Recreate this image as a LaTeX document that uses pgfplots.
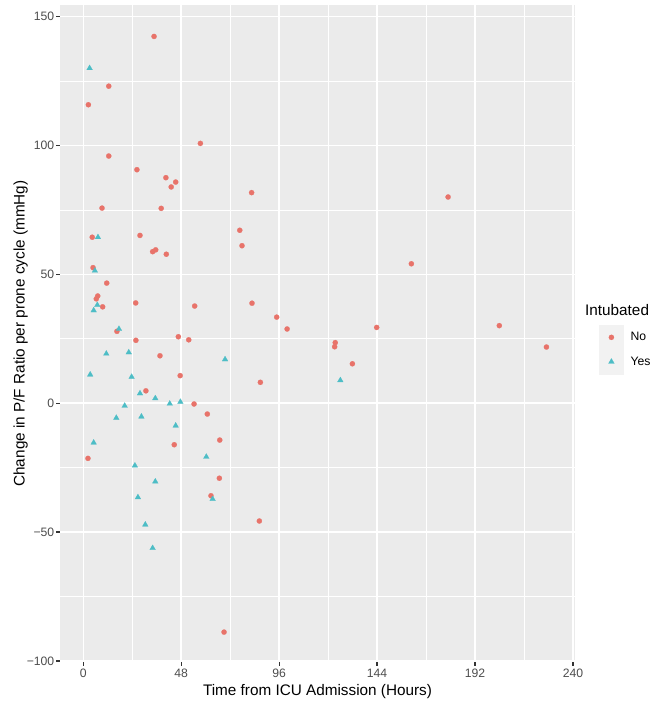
\documentclass[border=0pt]{standalone}
\usepackage{fontspec}
\setmainfont{Liberation Sans}
\usepackage{pgfplots}
\pgfplotsset{compat=1.18}
\definecolor{panelbg}{HTML}{EBEBEB}
\definecolor{ggred}{HTML}{E8736A}
\definecolor{ggteal}{HTML}{4DBDC6}
\definecolor{gray30}{HTML}{4D4D4D}
\definecolor{gray20}{HTML}{333333}
\definecolor{legkey}{HTML}{F2F2F2}
\pgfplotsset{ggkey/.style={legend image code/.code={\fill[legkey] (-12pt,-12pt) rectangle (12pt,12pt); \draw[##1] plot coordinates {(0pt,0pt)};}}}
\begin{document}
\begin{tikzpicture}
\useasboundingbox (0pt,0pt) rectangle (667pt,703pt);
\begin{axis}[
 at={(60pt,41pt)}, anchor=south west,
 scale only axis, width=515pt, height=657pt,
 xmin=-11.4, xmax=241, ymin=-100.4, ymax=154.5,
 axis background/.style={fill=panelbg},
 axis line style={draw=none},
 xtick={0,48,96,144,192,240}, ytick={-100,-50,0,50,100,150},
 xticklabels={0,48,96,144,192,240},
 yticklabels={−100,−50,0,50,100,150},
 minor xtick={24,72,120,168,216}, minor ytick={-75,-25,25,75,125},
 grid=both,
 major grid style={white, line width=1.5pt},
 minor grid style={white, line width=0.7pt},
 tick align=outside, major tick length=3.7pt, minor tick length=0pt,
 xtick pos=left, ytick pos=left,
 major tick style={gray20, line width=1.2pt},
 tick label style={font=\fontsize{12.2}{14}\selectfont, text=gray30},
 yticklabel style={xshift=1.5pt},
 xlabel={Time from ICU Admission (Hours)},
 ylabel={Change in P/F Ratio per prone cycle (mmHg)},
 ylabel shift=-8pt,
 label style={font=\fontsize{15.3}{18}\selectfont},
 legend style={at={(1.0466,0.513)}, anchor=north west, draw=none, fill=none,
   inner sep=0pt, row sep=0pt, nodes={inner sep=0pt, anchor=west},
   font=\fontsize{12.2}{14}\selectfont,
   /tikz/every odd column/.append style={column sep=7pt}},
 legend cell align=left,
]
\addplot[only marks, mark=*, mark size=2.6pt, color=ggred, mark options={draw=ggred, fill=ggred, line width=0.2pt}, ggkey]
 table {
x y
34.7 142.3
12.5 123.0
2.5 115.8
57.4 100.8
12.5 95.9
26.3 90.6
40.5 87.5
45.3 85.8
43.1 83.9
9.2 75.7
38.2 75.6
4.4 64.4
27.8 65.1
34.0 58.8
35.5 59.5
40.7 57.8
4.8 52.6
11.5 46.6
7.1 41.6
6.4 40.5
9.5 37.4
25.7 38.9
54.6 37.7
16.5 27.9
25.8 24.4
46.6 25.8
51.7 24.6
37.6 18.4
47.5 10.7
30.7 4.8
54.3 -0.3
60.8 -4.2
44.6 -16.1
66.9 -14.3
2.3 -21.4
66.7 -29.1
62.6 -35.9
86.3 -45.7
69.0 -88.8
82.5 81.7
76.7 67.1
77.8 61.1
82.7 38.8
94.8 33.4
99.9 28.8
143.8 29.4
123.5 23.5
123.2 21.9
131.9 15.3
86.8 8.1
178.8 80.0
160.8 54.1
203.9 30.1
227.0 21.8
};
\addlegendentry{No}
\addplot[only marks, mark=triangle*, mark size=3.3pt, color=ggteal, mark options={draw=ggteal, fill=ggteal, line width=0.2pt}, ggkey]
 table {
x y
3.1 130.0
7.2 64.4
5.7 51.4
6.9 38.1
5.1 36.0
17.5 28.8
11.3 19.2
22.3 19.7
3.4 11.1
23.7 10.2
27.8 3.8
35.3 1.9
42.4 -0.2
47.6 0.5
20.3 -1.0
16.2 -5.7
28.5 -5.2
45.3 -8.7
5.1 -15.3
60.3 -20.8
25.3 -24.2
35.3 -30.4
63.4 -37.2
26.8 -36.5
30.4 -47.1
34.0 -56.2
69.5 17.0
126.0 8.9
};
\addlegendentry{Yes}
\end{axis}
\node[anchor=west, font=\fontsize{15.3}{18}\selectfont, inner sep=0pt] at (585pt,393pt) {Intubated};
\end{tikzpicture}
\end{document}
